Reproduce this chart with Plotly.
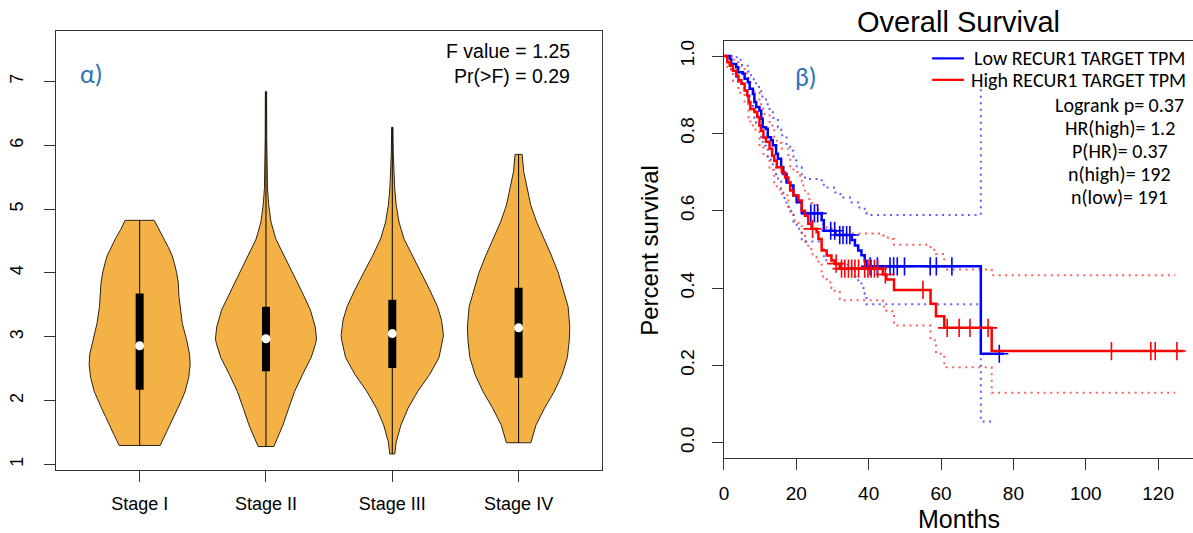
import plotly.graph_objects as go
from bisect import bisect_right

# ---------------- data: violin panel ----------------
stages = ["Stage I", "Stage II", "Stage III", "Stage IV"]

stage1_y = [1.297, 1.45, 1.615, 1.75, 1.881, 2.0, 2.146, 2.358, 2.57, 2.729, 2.942, 3.207, 3.472, 3.631, 3.844, 4.003, 4.15, 4.268, 4.4, 4.533, 4.68, 4.825]
stage1_hw = [0.162, 0.20, 0.24, 0.27, 0.302, 0.33, 0.36, 0.388, 0.40, 0.395, 0.373, 0.338, 0.318, 0.311, 0.306, 0.293, 0.275, 0.258, 0.228, 0.193, 0.15, 0.115]

stage2_y = [1.281, 1.615, 1.881, 2.146, 2.411, 2.676, 2.889, 2.968, 3.154, 3.419, 3.684, 4.003, 4.268, 4.533, 4.798, 5.064, 5.329, 5.594, 6.125, 6.841]
stage2_hw = [0.062, 0.134, 0.18, 0.227, 0.29, 0.358, 0.392, 0.40, 0.39, 0.352, 0.29, 0.212, 0.143, 0.078, 0.04, 0.022, 0.012, 0.009, 0.006, 0.005]

stage3_y = [1.164, 1.35, 1.615, 1.881, 2.146, 2.411, 2.676, 2.942, 3.021, 3.26, 3.472, 3.737, 4.003, 4.268, 4.533, 4.798, 5.064, 5.329, 5.594, 5.859, 6.284]
stage3_hw = [0.02, 0.031, 0.068, 0.125, 0.202, 0.296, 0.37, 0.40, 0.405, 0.39, 0.358, 0.296, 0.227, 0.156, 0.093, 0.053, 0.031, 0.019, 0.012, 0.008, 0.005]

stage4_y = [1.34, 1.615, 1.881, 2.146, 2.411, 2.676, 2.942, 3.154, 3.472, 3.737, 4.003, 4.268, 4.533, 4.798, 5.064, 5.329, 5.594, 5.859]
stage4_hw = [0.097, 0.137, 0.205, 0.283, 0.345, 0.386, 0.401, 0.405, 0.392, 0.355, 0.314, 0.261, 0.205, 0.143, 0.096, 0.065, 0.04, 0.028]

box_q1 = [2.17, 2.46, 2.51, 2.36]
box_median = [2.86, 2.97, 3.05, 3.14]
box_q3 = [3.68, 3.47, 3.58, 3.77]

anova_text = ["F value = 1.25", "Pr(>F) = 0.29"]

# ---------------- data: survival panel ----------------
low_t = [0, 1.6, 2.0, 3.4, 3.9, 5.2, 5.7, 6.6, 7.1, 8.0, 8.4, 8.9, 9.8, 10.3, 10.7, 11.6, 12.1, 13.0, 13.5, 14.4, 14.9, 15.8, 16.4, 17.3, 18.3, 19.2, 20.1, 21.5, 27.0, 27.6, 30.8, 35.3, 36.2, 37.1, 38.0, 38.9, 39.4, 71.0]
low_s = [1.0, 0.993, 0.979, 0.971, 0.958, 0.954, 0.941, 0.932, 0.915, 0.902, 0.881, 0.868, 0.859, 0.838, 0.816, 0.812, 0.79, 0.782, 0.769, 0.747, 0.734, 0.713, 0.695, 0.673, 0.665, 0.639, 0.622, 0.593, 0.575, 0.548, 0.537, 0.524, 0.51, 0.497, 0.485, 0.47, 0.456, 0.23]
low_end = 77.4
low_censor = [24.0, 25.0, 25.9, 29.5, 30.6, 32.0, 32.9, 33.9, 34.8, 40.4, 42.4, 45.9, 46.9, 47.9, 49.9, 57.0, 58.7, 63.0, 76.1]

low_up_t = [0, 2.0, 3.5, 5.0, 6.6, 7.5, 8.9, 10.3, 11.6, 12.1, 13.5, 14.9, 15.8, 17.3, 18.3, 19.2, 20.1, 21.5, 22.4, 27.0, 27.6, 30.8, 33.0, 35.3, 37.1, 38.9, 39.4, 71.0]
low_up_s = [1.0, 1.0, 0.99, 0.975, 0.96, 0.94, 0.92, 0.895, 0.875, 0.863, 0.84, 0.815, 0.795, 0.77, 0.755, 0.73, 0.712, 0.69, 0.682, 0.673, 0.66, 0.643, 0.634, 0.621, 0.608, 0.595, 0.589, 0.914]

low_lo_t = [0, 1.6, 2.0, 3.4, 3.9, 5.2, 5.7, 6.6, 7.1, 8.0, 8.4, 8.9, 9.8, 10.3, 10.7, 11.6, 12.1, 13.0, 13.5, 14.4, 14.9, 15.8, 16.4, 17.3, 18.3, 19.2, 20.1, 21.5, 27.0, 27.6, 30.8, 35.3, 36.2, 37.1, 38.0, 38.9, 39.4, 71.0, 74.7]
low_lo_s = [1.0, 0.98, 0.96, 0.945, 0.93, 0.925, 0.91, 0.898, 0.878, 0.864, 0.84, 0.826, 0.815, 0.79, 0.768, 0.762, 0.738, 0.728, 0.714, 0.69, 0.676, 0.652, 0.633, 0.61, 0.6, 0.572, 0.553, 0.52, 0.50, 0.472, 0.46, 0.445, 0.43, 0.415, 0.40, 0.385, 0.358, 0.055, 0.055]

high_t = [0, 0.9, 1.6, 2.5, 3.4, 4.0, 4.8, 5.7, 6.4, 6.8, 7.3, 8.4, 9.2, 9.8, 10.2, 10.9, 11.6, 12.6, 13.3, 13.9, 14.6, 16.0, 16.9, 17.8, 18.3, 19.2, 20.6, 21.5, 22.4, 23.3, 24.2, 25.6, 26.1, 27.0, 28.4, 29.7, 30.6, 32.0, 43.9, 44.9, 47.0, 57.1, 58.6, 60.9, 74.0]
high_s = [1.0, 0.984, 0.975, 0.962, 0.949, 0.937, 0.928, 0.911, 0.898, 0.881, 0.863, 0.855, 0.842, 0.82, 0.807, 0.789, 0.778, 0.76, 0.742, 0.729, 0.712, 0.699, 0.686, 0.673, 0.652, 0.639, 0.626, 0.60, 0.587, 0.566, 0.553, 0.544, 0.527, 0.497, 0.484, 0.471, 0.463, 0.45, 0.435, 0.422, 0.395, 0.359, 0.327, 0.297, 0.237]
high_end = 127.0
high_censor = [24.5, 31.0, 32.5, 33.4, 34.4, 35.3, 36.2, 37.2, 38.9, 39.8, 40.7, 41.6, 42.5, 44.6, 55.0, 61.7, 65.0, 68.0, 73.0, 107.1, 118.0, 119.2, 125.2]

high_up_t = [0, 0.9, 2.5, 4.0, 5.7, 6.8, 7.3, 8.4, 9.8, 10.9, 12.6, 13.9, 14.6, 16.0, 17.8, 18.3, 19.2, 20.6, 21.5, 22.4, 23.3, 24.2, 25.6, 26.1, 27.0, 28.4, 29.7, 32.0, 43.9, 45.3, 47.0, 57.1, 58.6, 60.9, 74.0, 124.7]
high_up_s = [1.0, 1.0, 0.99, 0.97, 0.955, 0.93, 0.915, 0.905, 0.875, 0.85, 0.82, 0.79, 0.775, 0.76, 0.735, 0.715, 0.70, 0.69, 0.665, 0.652, 0.63, 0.62, 0.61, 0.595, 0.565, 0.555, 0.545, 0.541, 0.536, 0.527, 0.512, 0.499, 0.488, 0.448, 0.433, 0.433]

high_lo_t = [0, 0.9, 2.5, 4.0, 5.7, 6.8, 7.3, 8.4, 9.8, 10.9, 12.6, 13.9, 14.6, 16.0, 17.8, 18.3, 19.2, 20.6, 21.5, 22.4, 23.3, 24.2, 25.6, 26.1, 27.0, 28.4, 29.7, 30.6, 32.0, 43.9, 44.9, 47.0, 57.1, 58.6, 60.9, 74.0, 124.7]
high_lo_s = [1.0, 0.965, 0.935, 0.905, 0.875, 0.84, 0.82, 0.81, 0.77, 0.74, 0.705, 0.67, 0.655, 0.64, 0.61, 0.59, 0.575, 0.56, 0.535, 0.52, 0.50, 0.487, 0.478, 0.46, 0.43, 0.415, 0.40, 0.39, 0.368, 0.352, 0.34, 0.303, 0.265, 0.23, 0.195, 0.129, 0.129]

legend_labels = ["Low RECUR1 TARGET TPM", "High RECUR1 TARGET TPM"]
stats_lines = ["Logrank p= 0.37", "HR(high)= 1.2", "P(HR)= 0.37", "n(high)= 192", "n(low)= 191"]
x_ticks = [0, 20, 40, 60, 80, 100, 120]
y_ticks = [0.0, 0.2, 0.4, 0.6, 0.8, 1.0]

# ---------------- figure ----------------
W, H = 1193, 533
def fx(p):
    return p / W
def fy(p):
    return 1 - p / H

ORANGE = "rgb(244,178,70)"
OUTLINE = "rgb(45,35,20)"
BLUE = "#0000FF"
RED = "#FF0000"
LABEL_BLUE = "rgb(46,117,182)"
FONT = "Liberation Sans, Arial, sans-serif"
CFONT = "Carlito, Lato, Open Sans, sans-serif"

fig = go.Figure()

violins = [(stage1_y, stage1_hw), (stage2_y, stage2_hw), (stage3_y, stage3_hw), (stage4_y, stage4_hw)]
for i, (ys, hws) in enumerate(violins):
    pos = i + 1
    xs = [pos + h for h in hws] + [pos - h for h in reversed(hws)]
    yy = list(ys) + list(reversed(ys))
    xs.append(xs[0]); yy.append(yy[0])
    fig.add_trace(go.Scatter(x=xs, y=yy, mode="lines", fill="toself", fillcolor=ORANGE,
                             line=dict(color=OUTLINE, width=1), xaxis="x", yaxis="y",
                             hoverinfo="skip", showlegend=False))
    fig.add_trace(go.Scatter(x=[pos, pos], y=[ys[0], ys[-1]], mode="lines",
                             line=dict(color="black", width=1), xaxis="x", yaxis="y",
                             hoverinfo="skip", showlegend=False))
    fig.add_trace(go.Scatter(x=[pos, pos], y=[box_q1[i], box_q3[i]], mode="lines",
                             line=dict(color="black", width=8), xaxis="x", yaxis="y",
                             hoverinfo="skip", showlegend=False))
    fig.add_trace(go.Scatter(x=[pos], y=[box_median[i]], mode="markers",
                             marker=dict(color="white", size=9, line=dict(width=0)),
                             xaxis="x", yaxis="y", hoverinfo="skip", showlegend=False))

def step_value(ts, ss, t):
    k = bisect_right(ts, t) - 1
    return ss[max(k, 0)]

dot = "2px,4.5px"
ci_sets = [(low_up_t, low_up_s, "rgba(40,40,255,0.75)"), (low_lo_t, low_lo_s, "rgba(40,40,255,0.75)"),
           (high_up_t, high_up_s, "rgba(255,40,40,0.75)"), (high_lo_t, high_lo_s, "rgba(255,40,40,0.75)")]
for ts, ss, col in ci_sets:
    fig.add_trace(go.Scatter(x=ts, y=ss, mode="lines", line=dict(color=col, width=2, dash=dot, shape="hv"),
                             xaxis="x2", yaxis="y2", hoverinfo="skip", showlegend=False))

for ts, ss, end, cens, col in [(low_t, low_s, low_end, low_censor, BLUE),
                               (high_t, high_s, high_end, high_censor, RED)]:
    fig.add_trace(go.Scatter(x=list(ts) + [end], y=list(ss) + [ss[-1]], mode="lines",
                             line=dict(color=col, width=2.5, shape="hv"),
                             xaxis="x2", yaxis="y2", hoverinfo="skip", showlegend=False))
    fig.add_trace(go.Scatter(x=cens, y=[step_value(ts, ss, c) for c in cens], mode="markers",
                             marker=dict(symbol="cross-thin", size=13, line=dict(color=col, width=1.6)),
                             xaxis="x2", yaxis="y2", hoverinfo="skip", showlegend=False))

axis_common = dict(showgrid=False, zeroline=False, ticks="outside", ticklen=11, tickwidth=1,
                   tickcolor="#333", linecolor="#333", linewidth=1.3, showline=True)

fig.update_layout(
    width=W, height=H, margin=dict(l=0, r=0, t=0, b=0),
    paper_bgcolor="white", plot_bgcolor="white",
    font=dict(family=FONT, color="black"),
    xaxis=dict(domain=[fx(51), fx(600)], range=[0.336, 4.664], anchor="y", mirror=True,
               tickvals=[1, 2, 3, 4], ticktext=stages, tickfont=dict(size=18),
               ticklabelstandoff=6, **axis_common),
    yaxis=dict(domain=[fy(470), fy(30)], range=[0.911, 7.793], anchor="x", mirror=True,
               tickvals=[1, 2, 3, 4, 5, 6, 7], tickangle=-90, tickfont=dict(size=18),
               ticklabelstandoff=13, **axis_common),
    xaxis2=dict(domain=[fx(722), 1.0], range=[0, (W - 722) / 3.633], anchor="y2", mirror=True,
                tickvals=x_ticks, tickfont=dict(size=19), ticklabelstandoff=7, **axis_common),
    yaxis2=dict(domain=[fy(458), fy(40)], range=[-0.04, 1.039], anchor="x2", mirror=False,
                tickvals=y_ticks, tickformat=".1f", tickangle=-90, tickfont=dict(size=19),
                ticklabelstandoff=10, **axis_common),
)

ann = []
ann.append(dict(text=anova_text[0], x=fx(569), y=fy(50), xanchor="right", yanchor="middle",
                font=dict(size=19.5, family=FONT)))
ann.append(dict(text=anova_text[1], x=fx(569), y=fy(75), xanchor="right", yanchor="middle",
                font=dict(size=19.5, family=FONT)))
ann.append(dict(text="α)", x=fx(73), y=fy(73), xanchor="left", yanchor="middle",
                font=dict(size=26, family=CFONT, color=LABEL_BLUE)))
ann.append(dict(text="β)", x=fx(791), y=fy(76), xanchor="left", yanchor="middle",
                font=dict(size=26, family=CFONT, color=LABEL_BLUE)))
ann.append(dict(text="Overall Survival", x=fx(958), y=fy(21), xanchor="center", yanchor="middle",
                font=dict(size=29, family=FONT)))
ann.append(dict(text="Months", x=fx(958), y=fy(519), xanchor="center", yanchor="middle",
                font=dict(size=25, family=FONT)))
ann.append(dict(text="Percent survival", x=fx(647), y=fy(250), xanchor="center", yanchor="middle",
                textangle=-90, font=dict(size=24, family=FONT)))
ann.append(dict(text=legend_labels[0], x=fx(971), y=fy(57.5), xanchor="left", yanchor="middle",
                font=dict(size=20, family=CFONT)))
ann.append(dict(text=legend_labels[1], x=fx(968), y=fy(79), xanchor="left", yanchor="middle",
                font=dict(size=20, family=CFONT)))
for k, line in enumerate(stats_lines):
    ann.append(dict(text=line, x=fx(1119.5), y=fy(104 + 23.2 * k), xanchor="center", yanchor="middle",
                    font=dict(size=20, family=CFONT)))
for a in ann:
    a.update(xref="paper", yref="paper", showarrow=False)
fig.update_layout(annotations=ann)

fig.update_layout(shapes=[
    dict(type="line", xref="paper", yref="paper", x0=fx(931), x1=fx(963), y0=fy(57.5), y1=fy(57.5),
         line=dict(color=BLUE, width=2.2)),
    dict(type="line", xref="paper", yref="paper", x0=fx(931), x1=fx(963), y0=fy(79), y1=fy(79),
         line=dict(color=RED, width=2.2)),
])

fig.write_html("out.html", config={"displayModeBar": False},
               post_script="document.body.style.margin='0px';document.body.style.overflow='hidden';")
